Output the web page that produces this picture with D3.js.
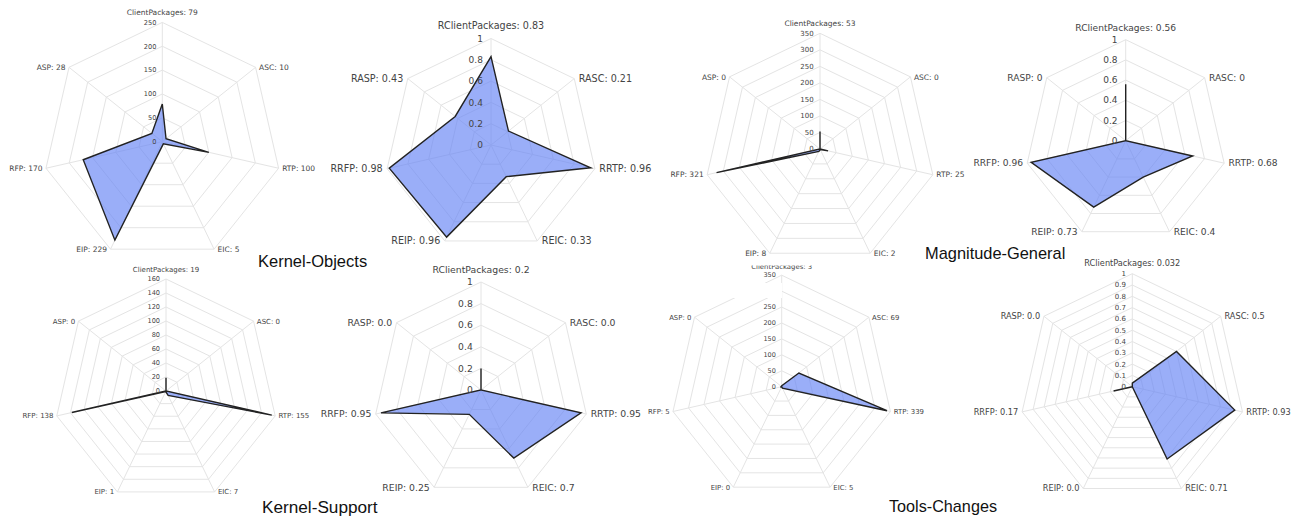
<!DOCTYPE html>
<html>
<head>
<meta charset="utf-8">
<script src="https://cdn.jsdelivr.net/npm/d3@7"></script>
<style>
  html, body { margin: 0; padding: 0; background: #fff; }
  svg { display: block; }
</style>
</head>
<body>
<svg id="chart" width="1297" height="521"></svg>
<script>
// ---------------- DATA ----------------
const axesRaw   = ["ClientPackages", "ASC", "RTP", "EIC", "EIP", "RFP", "ASP"];
const axesRatio = ["RClientPackages", "RASC", "RRTP", "REIC", "REIP", "RRFP", "RASP"];

const kernelObjectsRaw   = [79, 10, 100, 5, 229, 170, 28];
const kernelObjectsRatio = [0.83, 0.21, 0.96, 0.33, 0.96, 0.98, 0.43];
const kernelObjectsRatioText = ["0.83", "0.21", "0.96", "0.33", "0.96", "0.98", "0.43"];

const magnitudeGeneralRaw   = [53, 0, 25, 2, 8, 321, 0];
const magnitudeGeneralRatio = [0.56, 0, 0.68, 0.4, 0.73, 0.96, 0];
const magnitudeGeneralRatioText = ["0.56", "0", "0.68", "0.4", "0.73", "0.96", "0"];

const kernelSupportRaw   = [19, 0, 155, 7, 1, 138, 0];
const kernelSupportRatio = [0.2, 0, 0.95, 0.7, 0.25, 0.95, 0];
const kernelSupportRatioText = ["0.2", "0.0", "0.95", "0.7", "0.25", "0.95", "0.0"];

const toolsChangesRaw   = [3, 69, 339, 5, 0, 5, 0];
const toolsChangesRatio = [0.032, 0.5, 0.93, 0.71, 0, 0.17, 0];
const toolsChangesRatioText = ["0.032", "0.5", "0.93", "0.71", "0.0", "0.17", "0.0"];

const ticksKernelObjects   = [0, 50, 100, 150, 200, 250];
const ticksMagnitudeGen    = [0, 50, 100, 150, 200, 250, 300, 350];
const ticksKernelSupport   = [0, 20, 40, 60, 80, 100, 120, 140, 160];
const ticksToolsChanges    = [0, 50, 100, 150, 200, 250, 300, 350];
const ticksRatioFifths     = [0, 0.2, 0.4, 0.6, 0.8, 1];
const ticksRatioTenths     = [0, 0.1, 0.2, 0.3, 0.4, 0.5, 0.6, 0.7, 0.8, 0.9, 1];

const titles = ["Kernel-Objects", "Magnitude-General", "Kernel-Support", "Tools-Changes"];

// ---------------- LAYOUT ----------------
const panels = [
  { axes: axesRaw,   values: kernelObjectsRaw,      text: null,                     ticks: ticksKernelObjects, cx: 162.3, cy: 141.7, R: 119.3, lf: 7.5, tf: 6.6 },
  { axes: axesRatio, values: kernelObjectsRatio,    text: kernelObjectsRatioText,   ticks: ticksRatioFifths,   cx: 491,   cy: 145,   R: 106.5, lf: 9.6, tf: 9.0 },
  { axes: axesRaw,   values: magnitudeGeneralRaw,   text: null,                     ticks: ticksMagnitudeGen,  cx: 820,   cy: 149,   R: 115.7, lf: 7.5, tf: 7.0 },
  { axes: axesRatio, values: magnitudeGeneralRatio, text: magnitudeGeneralRatioText, ticks: ticksRatioFifths,  cx: 1125.7,cy: 140.7, R: 101,   lf: 9.1, tf: 9.0 },
  { axes: axesRaw,   values: kernelSupportRaw,      text: null,                     ticks: ticksKernelSupport, cx: 166,   cy: 391,   R: 112,   lf: 7.0, tf: 6.6 },
  { axes: axesRatio, values: kernelSupportRatio,    text: kernelSupportRatioText,   ticks: ticksRatioFifths,   cx: 481,   cy: 390,   R: 108,   lf: 9.3, tf: 9.2 },
  { axes: axesRaw,   values: toolsChangesRaw,       text: null,                     ticks: ticksToolsChanges,  cx: 781.7, cy: 386.7, R: 111.5, lf: 6.9, tf: 6.5 },
  { axes: axesRatio, values: toolsChangesRatio,     text: toolsChangesRatioText,    ticks: ticksRatioTenths,   cx: 1132.3,cy: 386.7, R: 113,   lf: 8.2, tf: 7.0 }
];

const titleLayout = [
  { x: 258,   y: 266.5, size: 16.5 },
  { x: 925,   y: 258.5, size: 16.4 },
  { x: 262,   y: 512.5, size: 17.2 },
  { x: 889,   y: 512,   size: 16.2 }
];

// white patches seen in the reference where neighbouring panels overlap
const overlapPatches = [
  { x: 718, y: 256, w: 130, h: 9.5 },
  { x: 688, y: 271, w: 72, h: 27 },
  { x: 760, y: 283, w: 22, h: 15 }
];

const GRID = "#e4e4e4";
const FILL = "rgba(100,130,245,0.65)";
const STROKE = "#222";
const LABEL = "#444";
const FONT = "'DejaVu Sans', Verdana, sans-serif";

const svg = d3.select("#chart");

panels.forEach((p, pi) => {
  const n = p.axes.length;
  const maxV = p.ticks[p.ticks.length - 1];
  const r = d3.scaleLinear().domain([0, maxV]).range([0, p.R]);
  const ang = d3.scaleLinear().domain([0, n]).range([0, 2 * Math.PI]);
  const g = svg.append("g").attr("transform", `translate(${p.cx},${p.cy})`);

  const radial = d3.lineRadial().angle((d, i) => ang(i)).radius(d => r(d)).curve(d3.curveLinearClosed);

  // rings
  g.selectAll("path.ring")
    .data(p.ticks.filter(t => t > 0))
    .join("path")
    .attr("class", "ring")
    .attr("d", t => radial(d3.range(n).map(() => t)))
    .attr("fill", "none")
    .attr("stroke", GRID)
    .attr("stroke-width", 1);

  // spokes
  g.selectAll("line.spoke")
    .data(d3.range(n))
    .join("line")
    .attr("class", "spoke")
    .attr("x1", 0).attr("y1", 0)
    .attr("x2", i => r(maxV) * Math.sin(ang(i)))
    .attr("y2", i => -r(maxV) * Math.cos(ang(i)))
    .attr("stroke", GRID)
    .attr("stroke-width", 1);

  // data polygon
  g.append("path")
    .datum(p.values)
    .attr("d", radial)
    .attr("fill", FILL)
    .attr("stroke", STROKE)
    .attr("stroke-width", 1.4)
    .attr("stroke-linejoin", "miter");

  // tick labels
  g.selectAll("text.tick")
    .data(p.ticks)
    .join("text")
    .attr("class", "tick")
    .attr("x", -p.tf * 0.9)
    .attr("y", t => -r(t))
    .attr("dy", "0.35em")
    .attr("text-anchor", "end")
    .attr("font-family", FONT)
    .attr("font-size", p.tf)
    .attr("fill", LABEL)
    .text(t => String(t));

  // axis labels
  g.selectAll("text.axlabel")
    .data(p.axes)
    .join("text")
    .attr("class", "axlabel")
    .each(function (name, i) {
      const a = ang(i);
      const s = Math.sin(a), c = Math.cos(a);
      const vx = r(maxV) * s, vy = -r(maxV) * c;
      const t = d3.select(this);
      const valText = p.text ? p.text[i] : String(p.values[i]);
      t.text(`${name}: ${valText}`)
        .attr("font-family", FONT)
        .attr("font-size", p.lf)
        .attr("fill", LABEL)
        .attr("dy", "0.35em");
      if (Math.abs(s) < 0.1) {
        t.attr("x", vx).attr("y", vy - 1.3 * p.lf).attr("text-anchor", "middle");
      } else {
        t.attr("x", vx + (s > 0 ? 1 : -1) * 0.47 * p.lf)
         .attr("y", vy)
         .attr("text-anchor", s > 0 ? "start" : "end");
      }
    });
});

// overlap patches (panel edges in the source composite)
svg.selectAll("rect.patch")
  .data(overlapPatches)
  .join("rect")
  .attr("class", "patch")
  .attr("x", d => d.x).attr("y", d => d.y)
  .attr("width", d => d.w).attr("height", d => d.h)
  .attr("fill", "#fff");

// titles
svg.selectAll("text.title")
  .data(titles)
  .join("text")
  .attr("class", "title")
  .attr("x", (d, i) => titleLayout[i].x)
  .attr("y", (d, i) => titleLayout[i].y)
  .attr("font-family", "'Liberation Sans', Arial, Helvetica, sans-serif")
  .attr("font-size", (d, i) => titleLayout[i].size)
  .attr("fill", "#111")
  .text(d => d);
</script>
</body>
</html>
